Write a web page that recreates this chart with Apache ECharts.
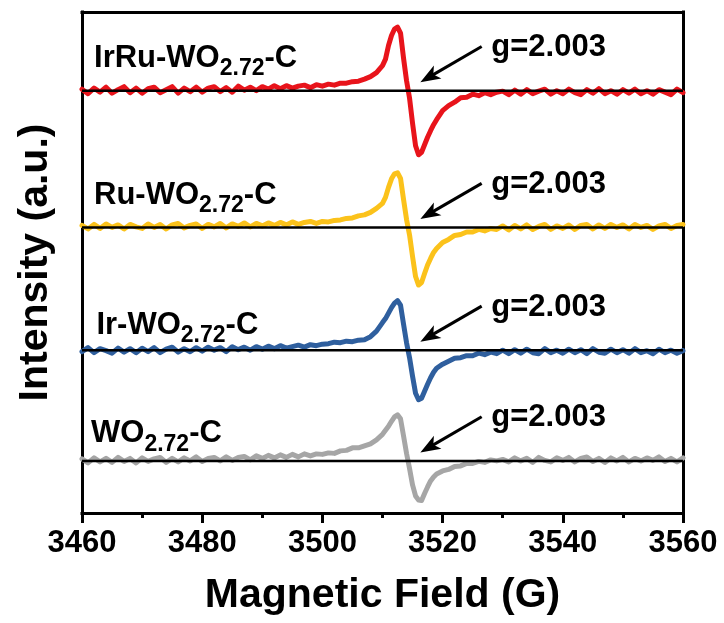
<!DOCTYPE html>
<html><head><meta charset="utf-8">
<script src="https://cdn.jsdelivr.net/npm/echarts@6/dist/echarts.min.js"></script>
<style>html,body{margin:0;padding:0;background:#fff}#c{width:724px;height:623px}</style>
</head><body><div id="c"></div><script>
// ---- data ----
const field = [
  3460,3461,3462,3463,3464,3465,3466,3467,3468,3469,
  3470,3471,3472,3473,3474,3475,3476,3477,3478,3479,
  3480,3481,3482,3483,3484,3485,3486,3487,3488,3489,
  3490,3491,3492,3493,3494,3495,3496,3497,3498,3499,
  3500,3501,3502,3503,3504,3505,3506,3507,3508,3509,
  3510,3510.5,3511,3511.5,3512,3512.5,3513,3513.5,3514,3514.5,
  3515,3515.5,3516,3516.5,3517,3517.5,3518,3518.5,3519,
  3520,3521,3522,3523,3524,3525,3526,3527,3528,3529,
  3530,3531,3532,3533,3534,3535,3536,3537,3538,3539,
  3540,3541,3542,3543,3544,3545,3546,3547,3548,3549,
  3550,3551,3552,3553,3554,3555,3556,3557,3558,3559,3560
];
const irRuValues = [
  0.3,-0.6,0.5,-0.3,0.7,-0.5,0.2,0.8,-0.4,0.5,
  -0.5,0.4,0.7,-0.4,0.2,0.8,-0.5,0.5,-0.2,0.7,
  -0.3,0.5,0.8,-0.2,0.6,-0.3,0.9,0.1,0.7,0.0,
  0.8,0.3,1.0,0.4,1.0,0.5,0.9,1.1,0.6,1.2,
  0.9,1.3,1.1,1.5,1.5,1.8,1.9,2.3,2.8,3.6,
  5.0,6.3,9.0,11.0,12.3,12.7,11.5,6.5,2.0,-1.5,
  -6.5,-11.0,-12.8,-12.3,-10.8,-9.3,-8.0,-6.8,-5.8,
  -4.0,-3.0,-2.3,-1.4,-1.3,-0.7,-1.0,-0.4,-0.8,-0.3,
  -0.1,-0.8,0.1,-0.7,0.2,-0.6,-0.1,0.3,-0.7,0.0,
  -0.6,0.3,-0.4,-0.8,0.2,-0.5,0.4,-0.6,0.0,-0.7,
  0.2,-0.5,0.3,-0.6,0.0,-0.7,0.2,-0.3,-0.8,0.3,-0.4
];
const ruValues = [
  0.4,-0.3,0.6,-0.2,0.7,0.0,0.5,-0.3,0.6,0.1,
  -0.2,0.7,0.0,0.6,-0.3,0.5,0.8,-0.1,0.4,0.7,
  -0.2,0.6,0.1,0.8,-0.1,0.7,0.2,0.9,0.1,0.8,
  0.3,0.9,0.4,1.0,0.5,1.1,0.6,1.0,1.2,0.8,
  1.2,1.1,1.4,1.5,1.8,1.9,2.3,2.5,3.0,3.8,
  4.8,6.0,8.0,9.7,10.7,10.9,9.8,5.6,1.6,-1.5,
  -5.8,-9.8,-11.5,-11.0,-9.2,-7.5,-6.2,-5.0,-4.2,
  -3.0,-2.4,-1.6,-1.4,-0.9,-0.9,-0.4,-0.7,-0.2,-0.4,
  0.3,-0.5,0.4,-0.3,0.5,-0.4,0.2,0.6,-0.4,0.3,
  -0.2,0.5,-0.4,0.4,0.6,-0.3,0.5,-0.2,0.6,0.0,
  0.5,-0.3,0.6,0.0,0.4,-0.4,0.3,0.6,-0.2,0.4,0.6
];
const irValues = [
  -0.3,0.5,-0.5,0.3,-0.1,-0.6,0.4,-0.4,0.3,-0.5,
  0.4,-0.3,0.5,-0.5,0.2,0.6,-0.4,0.3,-0.3,0.5,
  -0.2,0.6,0.0,0.5,-0.3,0.7,0.1,0.6,0.0,0.7,
  0.2,0.8,0.3,0.9,0.4,0.7,1.0,0.6,1.1,0.9,
  1.2,1.3,1.6,1.5,1.8,1.7,2.0,2.1,2.7,3.8,
  5.5,6.3,7.4,8.5,9.4,9.9,9.0,5.2,1.5,-1.5,
  -5.2,-8.6,-9.9,-9.6,-8.2,-6.8,-5.5,-4.4,-3.6,
  -2.8,-2.2,-1.6,-1.5,-1.1,-1.1,-0.6,-0.9,-0.4,-0.7,
  0.0,-0.7,0.1,-0.6,0.2,-0.5,-0.7,0.3,-0.5,0.0,
  -0.6,0.2,-0.5,0.1,-0.7,0.3,-0.4,-0.6,0.2,-0.5,
  0.1,-0.6,0.3,-0.5,-0.1,-0.7,0.2,-0.5,0.0,-0.6,-0.1
];
const woValues = [
  0.4,-0.4,0.6,-0.2,0.5,-0.3,0.7,-0.1,0.5,-0.4,
  0.6,-0.1,0.4,0.7,-0.3,0.5,-0.2,0.6,0.0,0.8,
  -0.1,0.5,0.7,0.0,0.8,0.1,0.7,0.9,0.2,1.0,
  0.5,1.1,0.6,1.2,0.7,1.3,0.8,1.4,1.0,1.4,
  1.3,1.6,1.5,2.0,2.1,2.6,2.6,3.0,3.4,4.2,
  5.3,6.1,6.9,7.9,8.8,9.2,8.4,5.0,1.5,-1.5,
  -4.8,-7.0,-7.8,-7.9,-6.5,-5.2,-4.0,-3.2,-2.6,
  -2.0,-1.7,-1.1,-1.0,-0.5,-0.5,-0.1,-0.3,0.2,0.0,
  0.3,-0.2,0.6,0.0,0.5,-0.3,0.7,0.1,-0.2,0.6,
  0.1,0.7,-0.2,0.5,0.8,-0.1,0.5,-0.3,0.6,0.0,
  0.7,-0.2,0.5,0.0,0.6,0.1,0.8,-0.1,0.5,-0.2,0.6
];
const offsets = [84.3, 57.0, 32.5, 10.4];
const labelMain = ['IrRu-WO', 'Ru-WO', 'Ir-WO', 'WO'];
const labelSub = '2.72';
const labelTail = '-C';
const gLabel = 'g=2.003';
const xMin = 3460, xMax = 3560, xStep = 20;
const xTitle = 'Magnetic Field (G)';
const yTitle = 'Intensity (a.u.)';

// ---- styles ----
const FONT = '"Liberation Sans", Arial, sans-serif';
const colors = ['#e8141b', '#fbc21b', '#2f5f9e', '#a6a6a6'];
const allValues = [irRuValues, ruValues, irValues, woValues];
const labelAnchor = [[3462.0, 4.5], [3462.0, 4.45], [3462.4, 3.0], [3461.5, 3.5]];
const arrowFrom = [3526.5, 8.8], arrowTip = [3516.3, 1.7];
const gAnchor = [3528.1, 8.9];

const chart = echarts.init(document.getElementById('c'), null, {renderer: 'canvas'});
const frameLine = {show: true, onZero: false, lineStyle: {color: '#000', width: 3, cap: 'square'}};
const series = allValues.map((vals, k) => ({
  type: 'line', name: labelMain[k], z: 2, silent: true,
  data: field.map((x, i) => [x, offsets[k] + vals[i]]),
  showSymbol: false, symbol: 'none', sampling: null,
  lineStyle: {color: colors[k], width: 5, join: 'round', cap: 'round'},
  itemStyle: {color: colors[k]}
}));
offsets.forEach(off => series.push({
  type: 'line', z: 5, silent: true, showSymbol: false, symbol: 'none',
  data: [[xMin, off], [xMax, off]],
  lineStyle: {color: '#000', width: 2.5}
}));

chart.setOption({
  animation: false,
  backgroundColor: '#fff',
  grid: {left: 82, right: 41, top: 12, bottom: 110, containLabel: false, outerBoundsMode: 'none'},
  xAxis: [{
    type: 'value', min: xMin, max: xMax, interval: xStep, position: 'bottom',
    name: xTitle, nameLocation: 'middle', nameGap: 62,
    nameTextStyle: {fontSize: 41, fontWeight: 'bold', color: '#000', fontFamily: FONT},
    axisLine: frameLine,
    axisTick: {show: true, inside: false, length: 10, lineStyle: {color: '#000', width: 3}},
    minorTick: {show: true, splitNumber: 2, length: 5, lineStyle: {color: '#000', width: 3}},
    axisLabel: {fontSize: 31, fontWeight: 'bold', color: '#000', margin: 15, fontFamily: FONT,
      formatter: v => String(v)},
    splitLine: {show: false}, minorSplitLine: {show: false}
  }, {
    type: 'value', min: xMin, max: xMax, position: 'top',
    axisLine: frameLine, axisTick: {show: false}, axisLabel: {show: false}, splitLine: {show: false}
  }],
  yAxis: [{
    type: 'value', min: 0, max: 100, position: 'left',
    name: yTitle, nameLocation: 'middle', nameGap: 26,
    nameTextStyle: {fontSize: 41, fontWeight: 'bold', color: '#000', fontFamily: FONT},
    axisLine: frameLine, axisTick: {show: false}, axisLabel: {show: false}, splitLine: {show: false}
  }, {
    type: 'value', min: 0, max: 100, position: 'right',
    axisLine: frameLine, axisTick: {show: false}, axisLabel: {show: false}, splitLine: {show: false}
  }],
  series: series
});

// ---- annotations positioned through the chart's own scales ----
const px = (x, y) => chart.convertToPixel({xAxisIndex: 0, yAxisIndex: 0}, [x, y]);
const ctx = document.createElement('canvas').getContext('2d');
const tw = (t, fs) => { ctx.font = 'bold ' + fs + 'px ' + FONT; return ctx.measureText(t).width; };
const graphics = [];
offsets.forEach((off, k) => {
  const [lx, lb] = px(labelAnchor[k][0], off + labelAnchor[k][1]);
  let x = lx;
  [[labelMain[k], 31, 0], [labelSub, 23, 8], [labelTail, 31, 0]].forEach(([t, fs, dy]) => {
    graphics.push({type: 'text', x: x, y: lb + dy - 0.31 * fs, z: 100, silent: true,
      style: {text: t, fontSize: fs, fontWeight: 'bold', fontFamily: FONT, fill: '#000', align: 'left', verticalAlign: 'middle'}});
    x += tw(t, fs);
  });
  const f = px(arrowFrom[0], off + arrowFrom[1]);
  const t = px(arrowTip[0], off + arrowTip[1]);
  const dx = f[0] - t[0], dyy = f[1] - t[1], L = Math.hypot(dx, dyy);
  const ux = dx / L, uy = dyy / L, nx = -uy, ny = ux;
  const headL = 20, headW = 7.5;
  const bx = t[0] + ux * headL, by = t[1] + uy * headL;
  graphics.push({type: 'line', z: 100, silent: true,
    shape: {x1: f[0], y1: f[1], x2: t[0] + ux * 14, y2: t[1] + uy * 14},
    style: {stroke: '#000', lineWidth: 3}});
  graphics.push({type: 'polygon', z: 100, silent: true,
    shape: {points: [[t[0], t[1]], [bx + nx * headW, by + ny * headW], [t[0] + ux * 15, t[1] + uy * 15], [bx - nx * headW, by - ny * headW]]},
    style: {fill: '#000'}});
  const g = px(gAnchor[0], off + gAnchor[1]);
  graphics.push({type: 'text', x: g[0], y: g[1] + 1.5, z: 100, silent: true,
    style: {text: gLabel, fontSize: 31, fontWeight: 'bold', fontFamily: FONT, fill: '#000', align: 'left', verticalAlign: 'middle'}});
});
chart.setOption({graphic: {elements: graphics}});
</script></body></html>
